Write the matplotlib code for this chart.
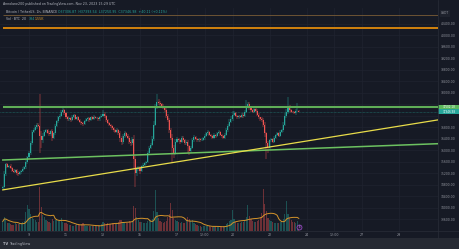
import numpy as np
import pandas as pd
import matplotlib
matplotlib.use("Agg")
from matplotlib import pyplot as plt
from matplotlib import dates as mdates
from matplotlib.patches import Rectangle
from matplotlib.lines import Line2D
from matplotlib.transforms import blended_transform_factory

# BTCUSDT candles, 2h steps from Nov 7 14:00 UTC
first_candle = "2023-11-07 14:00"
first_open = 34680
closes = [
    34720, 35180, 35520, 35430, 35470, 35380, 35300, 35260, 35310, 35220, 35180, 35240,
    35300, 35360, 35420, 35600, 35760, 35920, 36250, 36650, 36720, 36820, 36900, 36860,
    36500, 36350, 36520, 36650, 36700, 36620, 36560, 36680, 36450, 36600, 36850, 37020,
    37150, 37200, 37350, 37400, 37300, 37150, 37080, 37120, 37050, 37180, 37220, 37100,
    37150, 37060, 37000, 36950, 36920, 37010, 37080, 37120, 37050, 37150, 37100, 37180,
    37120, 37140, 37080, 37150, 37200, 37280, 37200, 37050, 36950, 36900, 36850, 36780,
    36700, 36650, 36720, 36600, 36450, 36300, 36500, 36600, 36520, 36450, 36300, 36250,
    36400, 35700, 35200, 35350, 35400, 35300, 35450, 35500, 35560, 35600, 35900, 36100,
    36200, 36400, 36900, 37500, 37700, 37650, 37600, 37550, 37500, 37400, 37200, 37050,
    36700, 36450, 36100, 35900, 36300, 36400, 36350, 36300, 36450, 36350, 36250, 36300,
    36150, 35980, 36100, 36350, 36480, 36400, 36350, 36400, 36350, 36380, 36420, 36500,
    36600, 36650, 36550, 36500, 36450, 36550, 36500, 36600, 36650, 36550, 36500, 36450,
    36550, 36700, 36850, 37000, 37100, 37250, 37300, 37200, 37150, 37200, 37180, 37250,
    37200, 37350, 37550, 37600, 37500, 37400, 37350, 37450, 37380, 37250, 37150, 37100,
    37050, 36900, 36600, 36250, 36100, 36350, 36400, 36300, 36450, 36550, 36600, 36520,
    36650, 36700, 36900, 37200, 37350, 37500, 37400, 37350, 37330, 37300, 37370, 37380,
    37347,
]
upper_wick = [
    40, 90, 60, 50, 40, 60, 30, 50, 40, 30, 50, 40,
    30, 50, 40, 80, 60, 70, 90, 80, 60, 70, 60, 50,
    1105, 180, 90, 70, 60, 50, 60, 40, 80, 60, 70, 50,
    60, 80, 60, 90, 50, 40, 60, 50, 40, 60, 50, 40,
    30, 40, 50, 40, 30, 60, 40, 50, 40, 30, 40, 50,
    30, 40, 30, 50, 60, 130, 60, 40, 50, 40, 30, 50,
    40, 60, 50, 40, 70, 50, 60, 80, 50, 40, 60, 50,
    70, 150, 120, 90, 60, 50, 40, 60, 50, 40, 80, 60,
    70, 90, 110, 120, 265, 100, 80, 60, 70, 50, 80, 60,
    90, 70, 120, 80, 90, 60, 50, 40, 70, 50, 40, 50,
    60, 40, 50, 90, 70, 40, 30, 40, 30, 40, 50, 60,
    60, 50, 40, 30, 40, 50, 40, 60, 50, 40, 30, 40,
    50, 70, 60, 80, 90, 110, 60, 50, 40, 50, 40, 50,
    40, 60, 210, 90, 80, 60, 50, 60, 40, 50, 40, 30,
    50, 80, 90, 60, 90, 60, 50, 40, 50, 40, 60, 40,
    50, 60, 80, 90, 100, 360, 80, 50, 40, 40, 60, 270,
    30,
]
lower_wick = [
    50, 60, 80, 40, 50, 40, 60, 50, 40, 60, 50, 40,
    50, 40, 30, 50, 60, 50, 70, 60, 50, 40, 60, 50,
    600, 250, 80, 60, 50, 60, 50, 40, 120, 60, 50, 40,
    50, 60, 40, 50, 60, 50, 40, 60, 50, 40, 60, 50,
    40, 50, 60, 50, 60, 40, 30, 40, 50, 40, 30, 40,
    40, 30, 50, 40, 30, 50, 60, 50, 40, 50, 60, 50,
    60, 50, 40, 70, 150, 100, 60, 50, 60, 50, 70, 80,
    60, 350, 470, 90, 80, 120, 60, 50, 40, 60, 50, 40,
    60, 50, 70, 60, 50, 80, 60, 50, 40, 50, 60, 70,
    80, 90, 535, 150, 60, 50, 40, 60, 50, 40, 60, 50,
    240, 120, 80, 50, 40, 50, 60, 40, 50, 30, 40, 50,
    40, 50, 60, 40, 50, 40, 50, 30, 40, 50, 60, 40,
    50, 40, 60, 50, 40, 60, 50, 40, 60, 40, 50, 40,
    60, 40, 50, 60, 80, 50, 60, 40, 50, 60, 70, 60,
    60, 90, 120, 550, 200, 80, 60, 50, 40, 60, 50, 40,
    50, 40, 60, 50, 60, 80, 60, 50, 40, 30, 50, 40,
    20,
]
volumes = [
    3200, 4800, 3900, 2800, 2500, 2300, 2100, 1900, 2600, 2400, 2200, 2500,
    2800, 3000, 3300, 6200, 8600, 7400, 5800, 4200, 3900, 3500, 3100, 2900,
    14500, 7800, 5200, 4500, 3800, 3200, 3000, 2800, 4100, 3300, 3600, 3900,
    3400, 3800, 4200, 3100, 2700, 2500, 2300, 2000, 1900, 1700, 1800, 2100,
    2300, 2000, 1900, 2200, 2600, 2100, 1800, 1700, 1600, 1500, 1700, 1600,
    1500, 1800, 1900, 2000, 2400, 3100, 2500, 2300, 2600, 2400, 2200, 2500,
    2800, 2300, 2600, 3100, 3500, 3800, 2900, 2700, 2600, 2800, 3300, 3100,
    3000, 8300, 7600, 4500, 3600, 3100, 2900, 2600, 2500, 2700, 3300, 3600,
    3400, 4100, 6800, 13500, 6200, 4300, 3400, 3000, 2700, 2900, 3400, 4500,
    5600, 9300, 6900, 4400, 3800, 3300, 3000, 2800, 3100, 2700, 2500, 3600,
    4600, 3900, 3200, 3500, 2600, 2200, 1900, 1700, 1500, 1400, 1500, 1600,
    1800, 1700, 1500, 1400, 1300, 1500, 1600, 1400, 1300, 1200, 1400, 1500,
    1800, 2300, 2600, 3200, 3800, 7000, 3900, 3100, 2700, 2500, 2600, 2900,
    3000, 3600, 4800, 8600, 5100, 4000, 3400, 3100, 2900, 3300, 3800, 4600,
    6100, 14000, 9000, 6500, 4400, 3800, 3300, 3000, 2800, 2600, 2500, 2700,
    2900, 3200, 4100, 5600, 10000, 5800, 4200, 3500, 3100, 2900, 2700, 3200,
    800,
]

# drawn levels / trend lines
orange_level = 40245
brown_level = 40710
green_level = 37500
last_price = 37346.98
green_trend = [("2023-11-07 14:00", 35670), ("2023-11-30 00:00", 36210)]
yellow_trend = [("2023-11-07 14:00", 34630), ("2023-11-30 00:00", 36950)]

price_ticks = [33600, 34000, 34400, 34800, 35200, 35600, 36000, 36400, 36800,
               37200, 37600, 38000, 38400, 38800, 39200, 39600, 40000, 40400]
date_ticks = ["2023-11-09", "2023-11-11", "2023-11-13", "2023-11-15", "2023-11-17",
              "2023-11-18 12:00", "2023-11-20", "2023-11-22", "2023-11-24",
              "2023-11-25 12:00", "2023-11-27", "2023-11-29"]
date_labels = ["9", "11", "13", "15", "17", "12:00", "20", "22", "24", "12:00", "27", "29"]

W, H = 460, 249
BG = "#161a25"
GRID = "#1f2330"
TXT = "#9598a1"
UP, DOWN = "#26a69a", "#ef5350"


def fx(px):
    return px / W


def fy(py):
    return 1 - py / H


fig = plt.figure(figsize=(W / 100, H / 100), dpi=100, facecolor=BG)
ax = fig.add_axes([0, fy(231), fx(438), (231 - 8) / H])
ax.set_facecolor(BG)

# time scale: 18.5 px per day, Nov 9 at x=29
x_left = mdates.date2num(pd.Timestamp("2023-11-09")) - 29 / 18.5
x_right = x_left + 438 / 18.5
ax.set_xlim(x_left, x_right)
ax.set_ylim(33200, 40956.5)

times = pd.date_range(first_candle, periods=len(closes), freq="2h")
cx = mdates.date2num(times.to_pydatetime())
o = np.array([first_open] + closes[:-1], float)
c = np.array(closes, float)
hi = np.maximum(o, c) + np.array(upper_wick)
lo = np.minimum(o, c) - np.array(lower_wick)
col = np.where(c >= o, UP, DOWN)

# volume first, underneath
axv = ax.twinx()
axv.set_ylim(0, 74000)
axv.set_xlim(x_left, x_right)
axv.axis("off")
axv.bar(cx, volumes, width=1 / 12 * 0.75, color=col, alpha=0.4, lw=0)
vol_ma = pd.Series(volumes).rolling(10, min_periods=1).mean()
axv.plot(cx, vol_ma, color="#d4942a", lw=0.7)
# event marker in the volume pane
axv.plot([cx[-1] + 0.02], [1300], marker="o", ms=3.6, mfc="#2a1d3f", mec="#a24fd0", mew=0.5,
         zorder=8)
axv.text(cx[-1] + 0.02, 1300, "E", fontsize=1.8, color="#c9a3e6", ha="center", va="center",
         zorder=9)

# candles
ax.vlines(cx, lo, hi, colors=col, lw=0.35, zorder=3)
ax.bar(cx, np.maximum(np.abs(c - o), 12), bottom=np.minimum(o, c),
       width=1 / 12 * 0.7, color=col, lw=0, zorder=4)

# lines drawn on the chart
x0 = cx[0]
ax.hlines(brown_level, x0, x_right, color="#7a5c36", lw=0.6, zorder=5)
ax.hlines(orange_level, x0, x_right, color="#e08a0c", lw=1.3, zorder=5)
ax.hlines(green_level, x0, x_right, color="#5fae57", lw=1.5, zorder=5)
ax.axhline(last_price, color="#1f6f6a", lw=0.5, ls=(0, (1, 1)), zorder=2)
for pts, colr, lw in [(green_trend, "#6cc160", 1.1), (yellow_trend, "#e8dc4a", 0.9)]:
    (d1, v1), (d2, v2) = pts
    t1, t2 = mdates.date2num(pd.Timestamp(d1)), mdates.date2num(pd.Timestamp(d2))
    slope = (v2 - v1) / (t2 - t1)
    ax.plot([t1, x_right + 1], [v1, v1 + slope * (x_right + 1 - t1)], color=colr, lw=lw, zorder=5)

# axes look
for s in ax.spines.values():
    s.set_visible(False)
ax.set_xticks([mdates.date2num(pd.Timestamp(d)) for d in date_ticks])
ax.set_xticklabels(date_labels)
ax.set_yticks(price_ticks)
# 37200 / 37600 sit under the price tags
ax.set_yticklabels(["" if p in (37200, 37600) else f"{p:.2f}" for p in price_ticks])
ax.yaxis.tick_right()
ax.tick_params(axis="x", length=0, pad=1.3, labelsize=2.3, labelcolor=TXT)
ax.tick_params(axis="y", length=0, pad=2.2, labelsize=2.2, labelcolor=TXT)
ax.grid(True, color=GRID, lw=0.5)
ax.set_axisbelow(True)

# price tags on the right scale
tr = blended_transform_factory(ax.transAxes, ax.transData)
ppx = (40956.5 - 33200) / 223
for level, fc, label in [(green_level, "#5cb85c", "37502.18"), (last_price, "#26a69a", "37346.98")]:
    ax.add_patch(Rectangle((1.0, level - 2.6 * ppx), 22 / 438, 5.2 * ppx, transform=tr,
                           fc=fc, ec="none", clip_on=False, zorder=10))
    ax.text(1.0 + 11 / 438, level, label, transform=tr, ha="center", va="center",
            fontsize=2.0, color="white", clip_on=False, zorder=11)

# separators, bottom band
fig.add_artist(Line2D([fx(438), fx(438)], [fy(238), 1], color="#2a2e39", lw=0.5))
fig.add_artist(Line2D([0, 1], [fy(231), fy(231)], color="#2a2e39", lw=0.5))
fig.add_artist(Rectangle((0, 0), 1, fy(238), fc="#262a33", ec="none"))

# header texts
fig.text(fx(3), fy(4), "Annolane200 published on TradingView.com, Nov 23, 2023 15:29 UTC",
         fontsize=2.3, color="#b2b5be", va="center")
fig.text(fx(6), fy(12), "Bitcoin / TetherUS, 1h, BINANCE", fontsize=2.3, color="#b2b5be", va="center")
fig.text(fx(58), fy(12), "O37306.87  H37393.54  L37250.95  C37346.98  +40.11 (+0.11%)",
         fontsize=2.3, color=UP, va="center")
fig.text(fx(6), fy(18.5), "Vol · BTC  20", fontsize=2.3, color="#b2b5be", va="center")
fig.text(fx(29), fy(18.5), "384", fontsize=2.3, color=UP, va="center")
fig.text(fx(35), fy(18.5), "1.55K", fontsize=2.3, color="#e0a030", va="center")
fig.text(fx(441), fy(13.5), "USDT", fontsize=2.2, color=TXT, va="center",
         bbox=dict(boxstyle="square,pad=0.4", fc="#1e222d", ec="none"))
fig.text(fx(3), fy(243.5), "TV", fontsize=2.6, color="#b2b5be", va="center", fontweight="bold")
fig.text(fx(9.5), fy(243.5), "TradingView", fontsize=2.5, color="#b2b5be", va="center")

fig.savefig("out.png", dpi=100, facecolor=BG)
